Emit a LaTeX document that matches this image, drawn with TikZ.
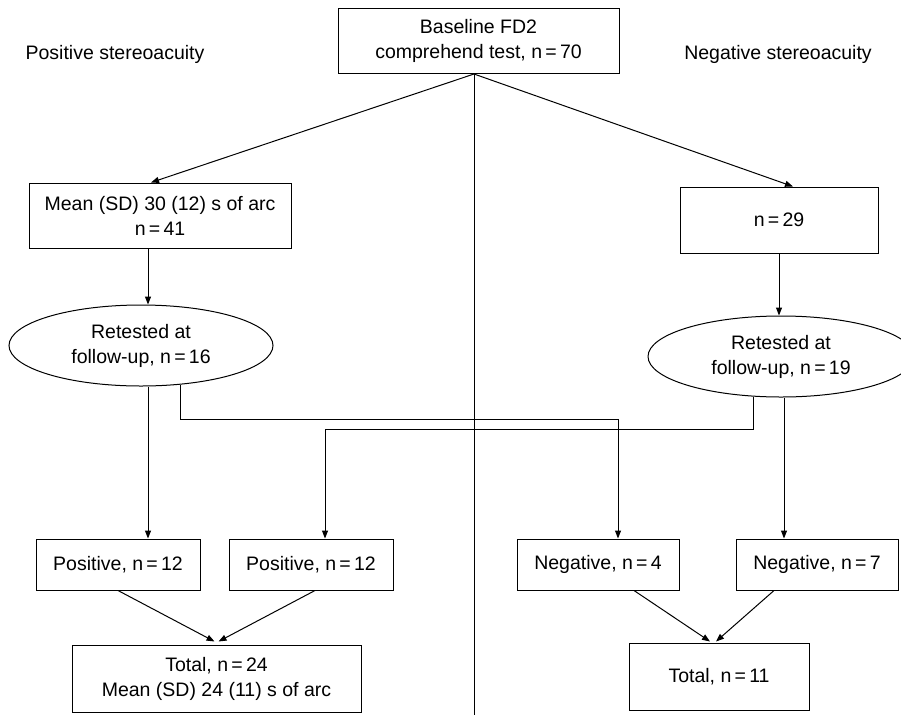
\documentclass[tikz,border=0pt]{standalone}
\usepackage{fontspec}
\setmainfont{Liberation Sans}
\usetikzlibrary{shapes.geometric,arrows.meta}
\begin{document}
\begin{tikzpicture}[x=1pt,y=-1pt,
  every node/.style={font=\fontsize{19.5}{25}\selectfont, align=center, inner sep=0pt},
  box/.style={draw, line width=1pt},
  oval/.style={draw, ellipse, line width=1pt},
  line/.style={line width=1pt},
  arr/.style={line width=1pt, -{Triangle[length=8pt,width=6pt]}}]
\useasboundingbox (0,0) rectangle (901,715);
\node[box, minimum width=281pt, minimum height=65pt] (top) at (478.5,41) {Baseline FD2\\comprehend test, n\,=\,70};
\node (lp) at (115,54) {Positive stereoacuity};
\node (ln) at (778,54) {Negative stereoacuity};
\node[box, minimum width=262pt, minimum height=65pt] (mean) at (160,215.5) {Mean (SD) 30 (12) s of arc\\n\,=\,41};
\node[box, minimum width=198pt, minimum height=66pt] (n29) at (779,220) {n\,=\,29};
\node[oval, minimum width=264pt, minimum height=81pt] (ellL) at (141,345.5) {Retested at\\follow-up, n\,=\,16};
\node[oval, minimum width=266pt, minimum height=81pt] (ellR) at (781,356.5) {Retested at\\follow-up, n\,=\,19};
\node[box, minimum width=164pt, minimum height=51pt] (pos1) at (118,564.5) {Positive, n\,=\,12};
\node[box, minimum width=164pt, minimum height=51pt] (pos2) at (311,564.5) {Positive, n\,=\,12};
\node[box, minimum width=162pt, minimum height=51pt] (neg4) at (598,564.5) {Negative, n\,=\,4};
\node[box, minimum width=162pt, minimum height=51pt] (neg7) at (817,564.5) {Negative, n\,=\,7};
\node[box, minimum width=289pt, minimum height=67pt] (totL) at (216.5,678.5) {Total, n\,=\,24\\Mean (SD) 24 (11) s of arc};
\node[box, minimum width=180pt, minimum height=67pt] (totR) at (719,676.5) {Total, n\,=\,11};
\coordinate (src) at ([xshift=-4.5pt]top.south);
\coordinate (bot) at (474,715);
\draw[line] (src) -- (bot);
\draw[arr] (src) -- ([xshift=-9pt]mean.north);
\draw[arr] (src) -- ([xshift=14pt]n29.north);
\draw[arr] ([xshift=-12pt]mean.south) -- ([xshift=-12pt]mean.south |- ellL.north);
\draw[arr] (n29.south) -- (n29.south |- ellR.north);
\draw[arr] ([xshift=30pt]pos1.north |- ellL.south) -- ([xshift=30pt]pos1.north);
\draw[arr] (ellL.-45) -- ++(0,35) -| ([xshift=20pt]neg4.north);
\draw[arr] (ellR.-124) -- ++(0,33) -| ([xshift=14pt]pos2.north);
\draw[arr] ([xshift=-33pt]neg7.north |- ellR.south) -- ([xshift=-33pt]neg7.north);
\draw[arr] (pos1.south) -- ([xshift=-2pt,yshift=3pt]totL.north);
\draw[arr] ([xshift=4pt]pos2.south) -- ([xshift=2pt,yshift=3pt]totL.north);
\draw[arr] ([xshift=36pt]neg4.south) -- ([xshift=-9pt,yshift=1pt]totR.north);
\draw[arr] ([xshift=-43pt]neg7.south) -- ([xshift=-3pt,yshift=1pt]totR.north);
\end{tikzpicture}
\end{document}
